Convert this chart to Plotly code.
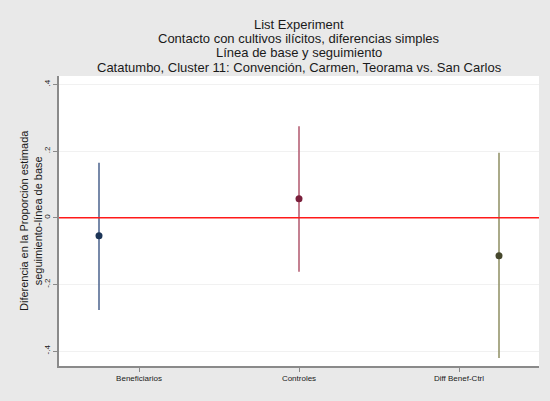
import plotly.graph_objects as go

categories = ["Beneficiarios", "Controles", "Diff Benef-Ctrl"]
cat_pos = [1, 2, 3]
tick_pos = [1.2, 2, 2.8]
estimates = [-0.054, 0.057, -0.114]
ci_upper = [0.165, 0.274, 0.195]
ci_lower = [-0.277, -0.162, -0.421]
y_ticks = [-0.4, -0.2, 0, 0.2, 0.4]
y_ticktext = ["-.4", "-.2", "0", ".2", ".4"]
marker_colors = ["#1c3557", "#7a1f3b", "#45472c"]
line_colors = ["#4a628c", "#b0566c", "#8e8e62"]

title_lines = [
    "List Experiment",
    "Contacto con cultivos ilícitos, diferencias simples",
    "Línea de base y seguimiento",
    "Catatumbo, Cluster 11: Convención, Carmen, Teorama vs. San Carlos",
]

fig = go.Figure()
for i in range(len(categories)):
    fig.add_trace(go.Scatter(
        x=[cat_pos[i]], y=[estimates[i]], mode="markers",
        marker=dict(color=marker_colors[i], size=7),
        error_y=dict(type="data", symmetric=False,
                     array=[ci_upper[i] - estimates[i]],
                     arrayminus=[estimates[i] - ci_lower[i]],
                     color=line_colors[i], thickness=1.5, width=0),
        showlegend=False, hoverinfo="skip",
    ))

fig.add_shape(type="line", xref="paper", x0=0, x1=1, yref="y", y0=0, y1=0,
              line=dict(color="#ff1a1a", width=1.5))

title_y = [24, 38.5, 53, 67.5]
for t, yy in zip(title_lines, title_y):
    fig.add_annotation(text=t, xref="paper", x=0.5, yref="paper",
                       y=1 + (76 - yy) / 290, showarrow=False,
                       xanchor="center", yanchor="middle",
                       font=dict(size=13, color="#1a1a1a"))

fig.add_annotation(text="Diferencia en la Proporción estimada<br>seguimiento-línea de base",
                   xref="paper", yref="paper", x=(31 - 59) / 480, y=0.5,
                   textangle=-90, showarrow=False, xanchor="center", yanchor="middle",
                   font=dict(size=11, color="#1a1a1a"))

fig.update_layout(
    width=550, height=401,
    margin=dict(l=59, r=11, t=76, b=35),
    paper_bgcolor="#e9e9e9", plot_bgcolor="white",
    font=dict(family="Liberation Sans, Arial, sans-serif", color="#1a1a1a"),
    xaxis=dict(range=[0.8, 3.2], tickvals=tick_pos, ticktext=categories,
               showgrid=False, zeroline=False, showline=True,
               linecolor="#8a8a8a", linewidth=1.5, ticks="outside",
               ticklen=4, tickcolor="#8a8a8a", tickfont=dict(size=8)),
    yaxis=dict(range=[-0.445, 0.425], tickvals=y_ticks, ticktext=y_ticktext,
               showgrid=True, gridcolor="#f1f1f1", zeroline=False,
               showline=True, linecolor="#8a8a8a", linewidth=1.5,
               ticks="outside", ticklen=4, tickcolor="#8a8a8a",
               tickangle=-90, tickfont=dict(size=8)),
)

fig.write_html("out.html", config={"displayModeBar": False},
               post_script="document.body.style.margin='0';document.body.style.padding='0';")
